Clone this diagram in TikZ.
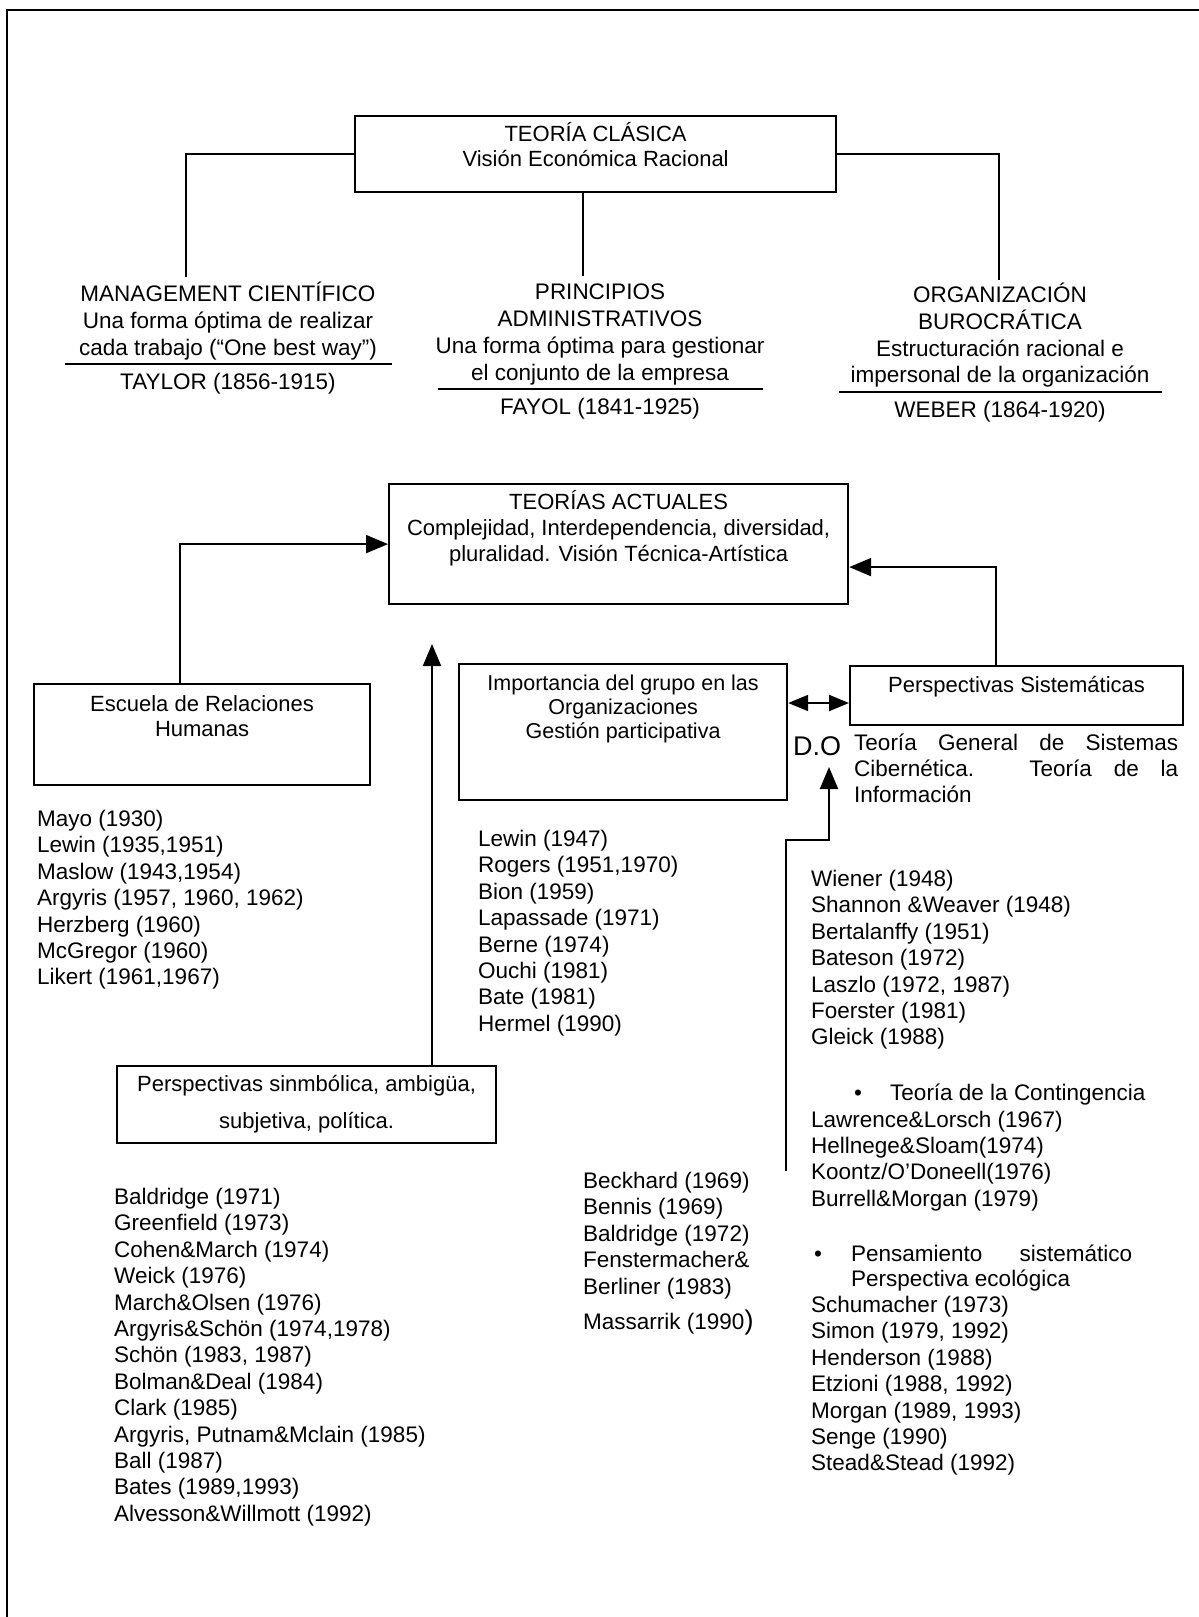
\documentclass[tikz,border=0pt]{standalone}
\usepackage{fontspec}
\setmainfont{Liberation Sans}
\usepackage{tikz}
\usetikzlibrary{positioning}
\usetikzlibrary{arrows.meta}

\begin{document}
\begin{tikzpicture}
[
x=1pt, y=-1pt,
block/.style={rectangle, draw, line width=2.2pt, inner sep=0pt, anchor=north west},
text-a/.style={font=\fontsize{22}{25.5}\selectfont, align=center, inner sep=0pt},
text-h/.style={font=\fontsize{22.5}{26.7}\selectfont, align=center, inner sep=0pt, anchor=north},
text-l/.style={font=\fontsize{22.5}{26.4}\selectfont, align=left, inner sep=0pt, anchor=north west},
link/.style={line width=2pt},
arrow/.style={link, -{Triangle[length=22pt, width=18pt]}},
both/.style={link, {Triangle[length=20pt, width=16pt]}-{Triangle[length=20pt, width=16pt]}},
]
\useasboundingbox (0,0) rectangle (1199,1617);
\draw [line width=2.6pt] (7,1617) -- (7,10) -- (1199,10);

% clasica
\node (clasica)  [block, minimum width=481pt, minimum height=76pt] at (354,115) {};
\node (clasical) [text-a, below = 7pt of clasica.north]      {TEORÍA CLÁSICA\\Visión Económica Racional};
\node (mgmt)     [text-h] at (228,282)  {MANAGEMENT CIENTÍFICO\\Una forma óptima de realizar\\cada trabajo (``One best way'')\\[-16pt]\rule[1pt]{327pt}{2pt}\\[-3pt]TAYLOR (1856-1915)};
\node (princ)    [text-h] at (600,284)  {PRINCIPIOS\\ADMINISTRATIVOS\\Una forma óptima para gestionar\\el conjunto de la empresa\\[-16pt]\rule[1pt]{325pt}{2pt}\\[-3pt]FAYOL (1841-1925)};
\node (orgb)     [text-h] at (1000,283) {ORGANIZACIÓN\\BUROCRÁTICA\\Estructuración racional e\\impersonal de la organización\\[-16pt]\rule[1pt]{323pt}{2pt}\\[-3pt]WEBER (1864-1920)};
\coordinate (mgmtin)  at (186,277);
\coordinate (princin) at (583,276);
\coordinate (orgbin)  at (999,280);
\draw [link] (clasica.west) -| (mgmtin);
\draw [link] (clasica.south -| princin) -- (princin);
\draw [link] (clasica.east) -| (orgbin);

% actuales
\node (actuales)  [block, minimum width=459pt, minimum height=120pt] at (388,483) {};
\node (actualesl) [text-a, font=\fontsize{22}{26}\selectfont, below = 7pt of actuales.north] {TEORÍAS ACTUALES\\Complejidad, Interdependencia, diversidad,\\pluralidad. Visión Técnica-Artística};
\node (escuela)   [block, minimum width=336pt, minimum height=101pt] at (33,683) {};
\node (escuelal)  [text-a, below = 12pt of escuela.north]    {Escuela de Relaciones\\Humanas};
\node (grupo)     [block, minimum width=328pt, minimum height=136pt] at (458,663) {};
\node (grupol)    [text-a, font=\fontsize{21.5}{24}\selectfont, below = 12pt of grupo.north] {Importancia del grupo en las\\Organizaciones\\Gestión participativa};
\node (sistem)    [block, minimum width=333pt, minimum height=59pt] at (849,665) {};
\node (sisteml)   [text-a, below = 11pt of sistem.north]     {Perspectivas Sistemáticas};
\node (simbol)    [block, minimum width=379pt, minimum height=77pt] at (116,1065) {};
\node (simboll)   [text-a, font=\fontsize{22}{37}\selectfont, below = 10pt of simbol.north] {Perspectivas sinmbólica, ambigüa,\\subjetiva, política.};
\node (dolab)     [inner sep=0pt, font=\fontsize{27}{27}\selectfont] at (817,746) {D.O};
\node (sisdesc)   [text-l, text width=324pt, align=justify, font=\fontsize{22.5}{26}\selectfont] at (854,734)
  {Teoría General de Sistemas\linebreak Cibernética. Teoría de la\linebreak Información};

\coordinate (simtip)  at (432,644);
\coordinate (dbl)     at (800,703);
\coordinate (dostart) at (786,1171);
\coordinate (doknee)  at (829,840);
\coordinate (dotip)   at (829,767);
\draw [arrow] ([xshift=-22pt]escuela.north) |- (actuales.west);
\draw [arrow] ([xshift=-21pt]sistem.north) |- ([yshift=-23pt]actuales.east);
\draw [arrow] (simtip |- simbol.north) -- (simtip);
\draw [both]  (grupo.east |- dbl) -- (sistem.west |- dbl);
\draw [arrow] (dostart) |- (doknee) -- (dotip);

% listas
\node (humlist)  [text-l] at (37,810)   {Mayo (1930)\\Lewin (1935,1951)\\Maslow (1943,1954)\\Argyris (1957, 1960, 1962)\\Herzberg (1960)\\McGregor (1960)\\Likert (1961,1967)};
\node (grplist)  [text-l] at (478,830)  {Lewin (1947)\\Rogers (1951,1970)\\Bion (1959)\\Lapassade (1971)\\Berne (1974)\\Ouchi (1981)\\Bate (1981)\\Hermel (1990)};
\node (sislist)  [text-l] at (811,870)  {Wiener (1948)\\Shannon \&Weaver (1948)\\Bertalanffy (1951)\\Bateson (1972)\\Laszlo (1972, 1987)\\Foerster (1981)\\Gleick (1988)};
\node (contlist) [text-l] at (811,1084) {\hspace*{43pt}\makebox[36pt][l]{•}Teoría de la Contingencia\\Lawrence\&Lorsch (1967)\\Hellnege\&Sloam(1974)\\Koontz/O'Doneell(1976)\\Burrell\&Morgan (1979)};
\node (penslist) [text-l] at (811,1245) {\hspace*{3pt}\makebox[37pt][l]{•}\makebox[281pt][s]{Pensamiento\hfill sistemático}\\[-2pt]\hspace*{40pt}Perspectiva ecológica\\Schumacher (1973)\\Simon (1979, 1992)\\Henderson (1988)\\Etzioni (1988, 1992)\\Morgan (1989, 1993)\\Senge (1990)\\Stead\&Stead (1992)};
\node (becklist) [text-l] at (583,1172) {Beckhard (1969)\\Bennis (1969)\\Baldridge (1972)\\Fenstermacher\&\\Berliner (1983)\\[9pt]Massarrik (1990{\fontsize{27}{26}\selectfont)}};
\node (simlist)  [text-l] at (114,1188) {Baldridge (1971)\\Greenfield (1973)\\Cohen\&March (1974)\\Weick (1976)\\March\&Olsen (1976)\\Argyris\&Schön (1974,1978)\\Schön (1983, 1987)\\Bolman\&Deal (1984)\\Clark (1985)\\Argyris, Putnam\&Mclain (1985)\\Ball (1987)\\Bates (1989,1993)\\Alvesson\&Willmott (1992)};
\end{tikzpicture}
\end{document}
